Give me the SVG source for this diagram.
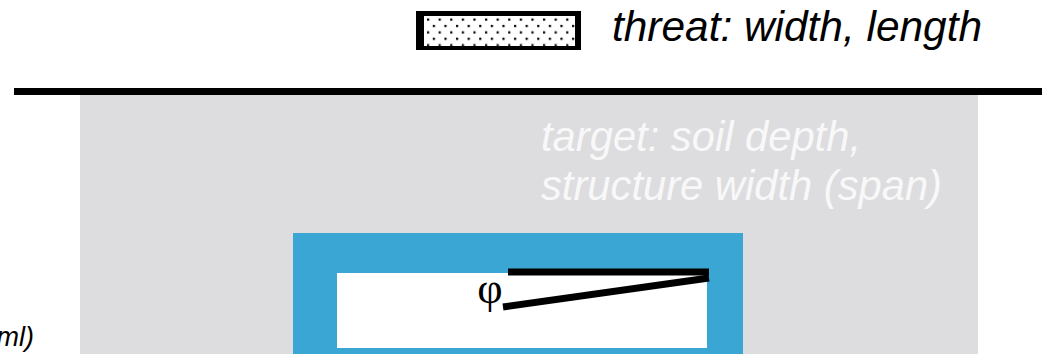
<svg xmlns="http://www.w3.org/2000/svg" width="1042" height="354" viewBox="0 0 1042 354">
  <defs>
    <pattern id="dots" x="426" y="17" width="11.6" height="12.8" patternUnits="userSpaceOnUse">
      <rect width="11.6" height="12.8" fill="#ffffff"/>
      <rect x="1" y="1.5" width="2.2" height="2.2" fill="#000000"/>
      <rect x="6.8" y="7.9" width="2.2" height="2.2" fill="#000000"/>
    </pattern>
    <style>
      .lbl { font-family: "Liberation Sans", Arial, sans-serif; font-style: italic; }
      .dark { fill: #000000; }
      .light { fill: #F8F8F9; }
      .bar { stroke: #000000; stroke-width: 7; fill: none; stroke-linecap: butt; }
    </style>
  </defs>
  <rect width="1042" height="354" fill="#ffffff"/>

  <g id="target-area">
    <rect x="80" y="95" width="898" height="259" fill="#DDDDDF"/>
    <text class="lbl light" x="541" y="151" font-size="42" textLength="320" lengthAdjust="spacingAndGlyphs">target: soil depth,</text>
    <text class="lbl light" x="541" y="200" font-size="42" textLength="401" lengthAdjust="spacingAndGlyphs">structure width (span)</text>
  </g>

  <g id="ground-line">
    <rect x="14" y="88" width="1028" height="7" fill="#000000"/>
  </g>

  <g id="legend">
    <rect x="416" y="11" width="165" height="39" fill="#000000"/>
    <rect x="424" y="16" width="151" height="30" fill="url(#dots)"/>
    <text class="lbl dark" x="612" y="41" font-size="42" textLength="370" lengthAdjust="spacingAndGlyphs">threat: width, length</text>
  </g>

  <g id="structure">
    <rect x="293" y="233" width="450" height="121" fill="#3AA6D3"/>
    <rect x="337" y="273" width="370" height="75" fill="#ffffff"/>
  </g>

  <g id="connectors">
    <line class="bar" x1="508" y1="272" x2="709" y2="272"/>
    <line class="bar" x1="503" y1="307" x2="709" y2="278"/>
  </g>

  <g id="angle">
    <text x="490" y="303" font-family="'Liberation Serif', 'Times New Roman', serif" font-size="44" text-anchor="middle" fill="#000000">φ</text>
  </g>

  <g id="left-label">
    <text class="lbl dark" x="34" y="346" font-size="27" text-anchor="end">ml)</text>
  </g>
</svg>
